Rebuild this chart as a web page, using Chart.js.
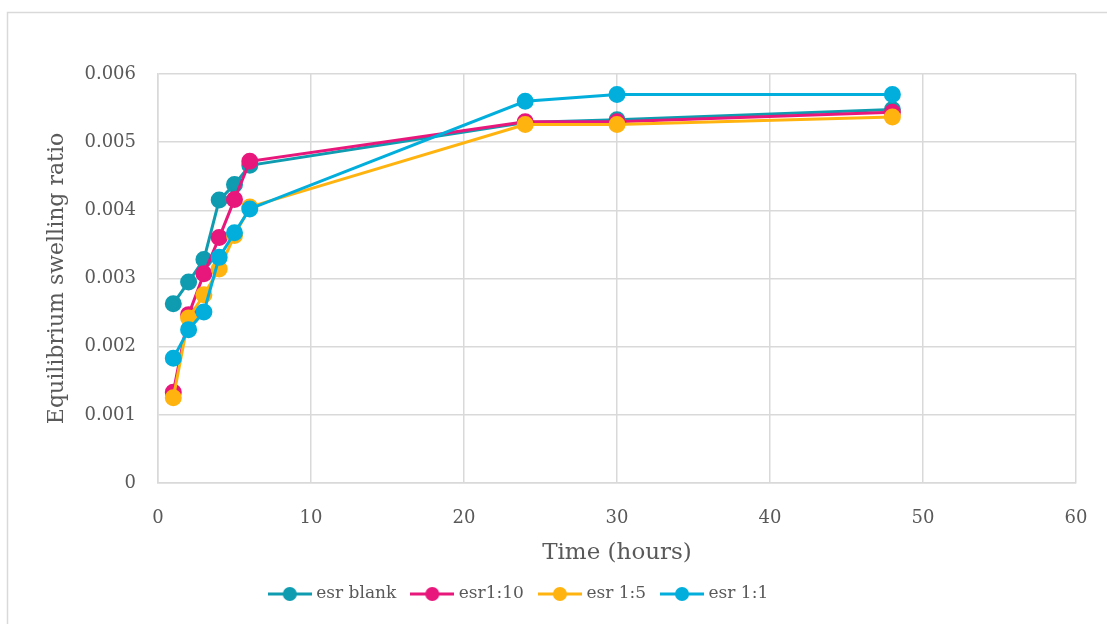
<!DOCTYPE html>
<html>
<head>
<meta charset="utf-8">
<script src="https://cdn.jsdelivr.net/npm/chart.js@4/dist/chart.umd.min.js"></script>
<style>
  html, body { margin: 0; padding: 0; background: #ffffff; }
  #wrap { position: relative; width: 1107px; height: 624px; }
</style>
</head>
<body>
<div id="wrap"><canvas id="chart" width="1107" height="624"></canvas></div>
<script>
// Swelling measurements, sampled at these times (hours)
const hours = [1, 2, 3, 4, 5, 6, 24, 30, 48];

const esrBlank = [0.00263, 0.00295, 0.00328, 0.00415, 0.00438, 0.00466, 0.00529, 0.00533, 0.00548];
const esr1to10 = [0.00133, 0.00247, 0.00307, 0.00360, 0.00416, 0.00472, 0.00530, 0.00530, 0.00544];
const esr1to5  = [0.00125, 0.00242, 0.00276, 0.00314, 0.00363, 0.00405, 0.00526, 0.00526, 0.00537];
const esr1to1  = [0.00183, 0.00225, 0.00251, 0.00331, 0.00367, 0.00402, 0.00560, 0.00570, 0.00570];

const seriesNames = ['esr blank', 'esr1:10', 'esr 1:5', 'esr 1:1'];
const seriesData = [esrBlank, esr1to10, esr1to5, esr1to1];
const seriesColors = ['#0f9bb0', '#e8177b', '#ffb30f', '#02aedc'];

const yTicks = [0, 0.001, 0.002, 0.003, 0.004, 0.005, 0.006];
const yTickLabels = ['0', '0.001', '0.002', '0.003', '0.004', '0.005', '0.006'];
const xTicks = [0, 10, 20, 30, 40, 50, 60];

const FONT = "'DejaVu Serif', 'Liberation Serif', serif";
const TEXT = '#595959';
const GRID = '#d9d9d9';

// Legend icon: short line with a round marker on it
function legendIcon(color) {
  const c = document.createElement('canvas');
  c.width = 44; c.height = 16;
  const g = c.getContext('2d');
  g.strokeStyle = color;
  g.lineWidth = 3;
  g.beginPath(); g.moveTo(0, 8); g.lineTo(44, 8); g.stroke();
  g.fillStyle = color;
  g.beginPath(); g.arc(22, 8, 7, 0, Math.PI * 2); g.fill();
  return c;
}
const icons = seriesColors.map(legendIcon);

const datasets = seriesNames.map((name, i) => ({
  label: name,
  data: hours.map((h, j) => ({ x: h, y: seriesData[i][j] })),
  borderColor: seriesColors[i],
  backgroundColor: seriesColors[i],
  pointBackgroundColor: seriesColors[i],
  pointBorderColor: seriesColors[i],
  borderWidth: 3,
  pointRadius: 7,
  pointHoverRadius: 7,
  tension: 0,
  order: seriesNames.length - i
}));

// Light frame around the whole chart
const framePlugin = {
  id: 'frame',
  beforeDraw(chart) {
    const ctx = chart.ctx;
    ctx.save();
    ctx.strokeStyle = GRID;
    ctx.lineWidth = 1.5;
    ctx.strokeRect(7.5, 12.5, 1300, 800);
    ctx.restore();
  }
};

new Chart(document.getElementById('chart'), {
  type: 'line',
  data: { datasets },
  plugins: [framePlugin],
  options: {
    responsive: false,
    animation: false,
    devicePixelRatio: 1,
    layout: { padding: { top: 74, right: 31, bottom: 11.5, left: -36 } },
    plugins: {
      tooltip: { enabled: false },
      legend: {
        position: 'bottom',
        labels: {
          usePointStyle: true,
          pointStyleWidth: 36,
          padding: 18,
          color: TEXT,
          font: { family: FONT, size: 17 },
          generateLabels(chart) {
            return chart.data.datasets.map((ds, i) => ({
              text: ds.label,
              fillStyle: ds.borderColor,
              strokeStyle: ds.borderColor,
              pointStyle: icons[i],
              fontColor: TEXT,
              lineWidth: 0,
              hidden: false,
              datasetIndex: i
            }));
          }
        }
      }
    },
    scales: {
      x: {
        type: 'linear',
        min: 0,
        max: 60,
        afterBuildTicks(scale) { scale.ticks = xTicks.map(v => ({ value: v })); },
        afterFit(scale) { scale.height = 84.5; },
        grid: { color: GRID, lineWidth: 1.5, drawTicks: true, tickLength: 22, tickColor: 'rgba(0,0,0,0)' },
        border: { color: GRID, width: 1.5 },
        ticks: { color: TEXT, font: { family: FONT, size: 18 }, padding: 3 },
        title: {
          display: true,
          text: 'Time (hours)',
          color: TEXT,
          font: { family: FONT, size: 23 },
          padding: { top: 0, bottom: 1 }
        }
      },
      y: {
        type: 'linear',
        min: 0,
        max: 0.006,
        afterBuildTicks(scale) { scale.ticks = yTicks.map(v => ({ value: v })); },
        afterFit(scale) { scale.width = 194; },
        grid: { color: GRID, lineWidth: 1.5, drawTicks: false },
        border: { color: GRID, width: 1.5 },
        ticks: {
          color: TEXT,
          font: { family: FONT, size: 18 },
          padding: 22,
          callback(value, index) { return yTickLabels[index]; }
        },
        title: {
          display: true,
          text: 'Equilibrium swelling ratio',
          color: TEXT,
          font: { family: FONT, size: 22 },
          padding: { top: 80, bottom: 0 }
        }
      }
    }
  }
});
</script>
</body>
</html>
